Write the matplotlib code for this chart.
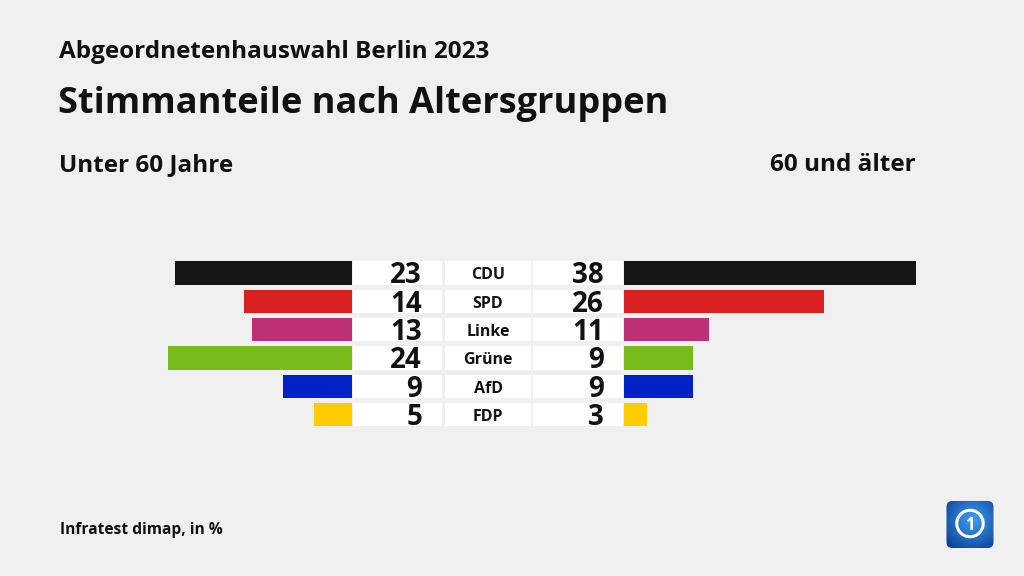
import numpy as np
import matplotlib
matplotlib.use("Agg")
import matplotlib.pyplot as plt
from matplotlib.patches import FancyBboxPatch, Circle

# ---- data ----
parties = ["CDU", "SPD", "Linke", "Grüne", "AfD", "FDP"]
under_60 = [23, 14, 13, 24, 9, 5]
over_60 = [38, 26, 11, 9, 9, 3]
colors = ["#151515", "#d7201f", "#be3075", "#78bc1b", "#0021c5", "#ffcc00"]

supertitle = "Abgeordnetenhauswahl Berlin 2023"
title = "Stimmanteile nach Altersgruppen"
left_header = "Unter 60 Jahre"
right_header = "60 und älter"
source = "Infratest dimap, in %"

plt.rcParams['font.family'] = ['Open Sans', 'DejaVu Sans']
BG = "#f0f0f0"
INK = "#111111"

W, H = 1024, 576
fig = plt.figure(figsize=(W / 100, H / 100), dpi=100)
fig.patch.set_facecolor(BG)


def fx(px):
    return px / W


def fy(py):
    return 1 - py / H


top, bottom = 258.8, 428.8
ah = (bottom - top) / H
n = len(parties)
ypos = np.arange(n)
bh = 0.83
scale_max = 38

# left bars
axL = fig.add_axes([fx(60), fy(bottom), fx(292), ah])
axL.barh(ypos, under_60, height=bh, color=colors)
axL.set_xlim(scale_max, 0)
axL.set_ylim(n - 0.5, -0.5)
axL.axis("off")

# right bars
axR = fig.add_axes([fx(624), fy(bottom), fx(292), ah])
axR.barh(ypos, over_60, height=bh, color=colors)
axR.set_xlim(0, scale_max)
axR.set_ylim(n - 0.5, -0.5)
axR.axis("off")

# middle label boxes
axM = fig.add_axes([fx(352), fy(bottom), fx(272), ah])
axM.set_xlim(352, 624)
axM.set_ylim(n - 0.5, -0.5)
axM.axis("off")
for left, width in [(353, 89), (445, 86), (533, 90)]:
    axM.barh(ypos, [width] * n, left=left, height=bh, color="white")
for i in range(n):
    axM.text(422, i + 0.1, str(under_60[i]), ha="right", va="center",
             fontsize=20, fontweight="bold", color=INK)
    axM.text(604, i + 0.1, str(over_60[i]), ha="right", va="center",
             fontsize=20, fontweight="bold", color=INK)
    axM.text(488, i + 0.08, parties[i], ha="center", va="center",
             fontsize=11.5, fontweight="bold", color=INK)

# titles
fig.text(fx(59), fy(58), supertitle, ha="left", va="baseline",
         fontsize=17.5, fontweight="bold", color=INK)
fig.text(fx(58), fy(113), title, ha="left", va="baseline",
         fontsize=26, fontweight="bold", color=INK)
fig.text(fx(59), fy(171), left_header, ha="left", va="baseline",
         fontsize=17.5, fontweight="bold", color=INK)
fig.text(fx(916), fy(171), right_header, ha="right", va="baseline",
         fontsize=17.5, fontweight="bold", color=INK)
fig.text(fx(60), fy(534), source, ha="left", va="baseline",
         fontsize=11.2, fontweight="bold", color=INK)

# logo
axLogo = fig.add_axes([fx(945), fy(549), fx(50), 49 / H])
axLogo.set_xlim(0, 1)
axLogo.set_ylim(0, 1)
axLogo.axis("off")
yy, xx = np.mgrid[0:1:100j, 0:1:100j]
r = np.sqrt((xx - 0.55) ** 2 + (yy - 0.6) ** 2)
grad = np.clip(r / 0.8, 0, 1)
c1 = np.array([0.25, 0.62, 0.95])
c2 = np.array([0.02, 0.22, 0.55])
img = c1[None, None, :] * (1 - grad[..., None]) + c2[None, None, :] * grad[..., None]
im = axLogo.imshow(img, extent=[0, 1, 0, 1], origin="lower", zorder=1)
box = FancyBboxPatch((0.02, 0.02), 0.96, 0.96, boxstyle="round,pad=0,rounding_size=0.12",
                     transform=axLogo.transData, facecolor="none", edgecolor="none")
axLogo.add_patch(box)
im.set_clip_path(box)
axLogo.add_patch(Circle((0.5, 0.52), 0.27, facecolor="none", edgecolor="white", lw=2.2, zorder=3))
axLogo.text(0.5, 0.5, "1", ha="center", va="center", color="white",
            fontsize=12, fontweight="bold", zorder=4)

fig.savefig("out.png", dpi=100, facecolor=BG)
